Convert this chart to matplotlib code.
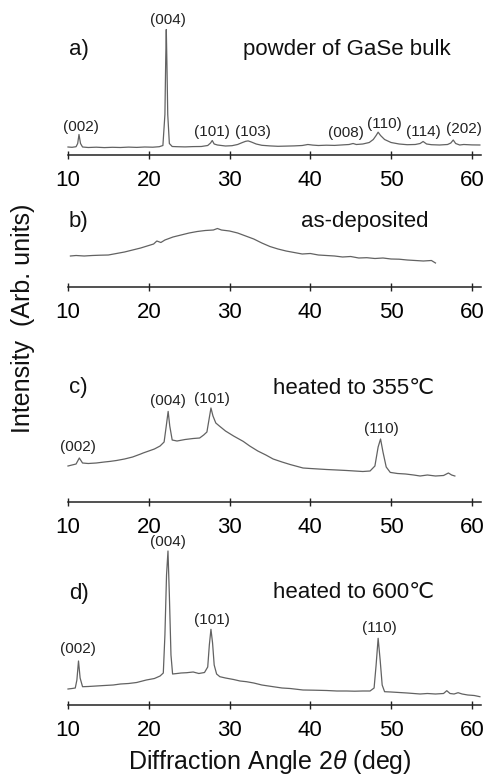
import matplotlib
matplotlib.use("Agg")
import matplotlib.pyplot as plt

plt.rcParams['font.family'] = ['Liberation Sans', 'DejaVu Sans']
plt.rcParams['mathtext.fontset'] = 'custom'
plt.rcParams['mathtext.it'] = 'Liberation Sans:italic'
plt.rcParams['mathtext.rm'] = 'Liberation Sans'

# ---------------- data (2theta in deg, intensity in arb. units) ----------------
a_x = [10.0, 10.5, 11.0, 11.2, 11.36, 11.55, 11.8, 12.5, 13.5, 14.5,
       15.5, 16.5, 17.5, 18.5, 19.5, 20.5, 21.3, 21.75, 22.0, 22.1,
       22.17, 22.25, 22.35, 22.55, 22.9, 23.5, 24.5, 25.5, 26.5, 27.3,
       27.65, 27.86, 28.1, 28.5, 29.0, 29.5, 30.3, 31.0, 31.6, 32.0,
       32.3, 32.7, 33.3, 34.0, 35.0, 36.0, 37.0, 38.0, 39.0, 39.7,
       40.3, 41.0, 42.0, 43.0, 44.0, 44.8, 45.3, 45.7, 46.5, 47.3,
       47.8, 48.15, 48.4, 48.7, 49.2, 50.0, 51.0, 52.0, 53.0, 53.6,
       53.97, 54.4, 55.0, 56.0, 57.0, 57.4, 57.7, 58.0, 58.5, 59.0,
       60.0, 61.0]
a_y = [7.5, 7.2, 7.8, 11, 20, 11, 7.5, 7.0, 7.3, 6.9,
       7.2, 7.0, 7.4, 7.1, 7.5, 7.3, 7.8, 9, 40, 95,
       125, 90, 40, 11, 8, 7.8, 7.6, 7.9, 8, 9,
       11.5, 14, 10.5, 9.5, 9, 8.5, 8.8, 10, 12, 13.2,
       13.6, 12.5, 10.5, 9.2, 8.6, 8.2, 8.4, 8.6, 9.0, 10,
       9.4, 9.0, 9.3, 9.1, 9.6, 10, 11, 10, 10.5, 12,
       15, 19, 22.3, 19, 15, 12, 10.5, 9.8, 10, 11,
       13, 10.5, 9.8, 9.5, 10, 11.5, 14.5, 11, 9.5, 10,
       9.6, 9.5]

b_x = [10.3, 11, 12, 13, 14, 15, 16, 17, 18, 19,
       20, 20.6, 21, 21.5, 22, 23, 24, 25, 26, 27,
       28, 28.5, 29, 30, 31, 32, 33, 34, 35, 36,
       37, 38, 39, 40, 41, 42, 43, 44, 45, 46,
       47, 48, 49, 50, 51, 52, 53, 54, 55, 55.5]
b_y = [31, 31.5, 31, 31.5, 31.8, 32, 33.5, 35, 37, 39,
       41.5, 43, 46, 44.5, 47, 50, 52, 54, 55.5, 56.5,
       57, 58.5, 57, 56, 54, 51, 48, 44, 40.5, 38,
       36, 34.5, 33, 33.5, 32, 31.5, 31, 30, 30.5, 29,
       29.3, 28.5, 29, 28, 27.8, 27, 26.5, 26, 26.5, 24]

c_x = [10.0, 10.5, 11.0, 11.2, 11.4, 11.8, 12.5, 13.5, 14.5, 15.2,
       16, 17, 18, 19, 19.3, 20, 20.7, 21.4, 21.9, 22.15,
       22.4, 22.6, 22.9, 23.5, 24.5, 25.5, 26.3, 26.8, 27.2, 27.45,
       27.7, 27.95, 28.3, 28.8, 29.5, 30.5, 31.7, 32.5, 33.5, 34.5,
       35.4, 36.5, 37.5, 39.1, 40, 41, 42, 43.3, 44.5, 45.5,
       46.5, 47.4, 48.0, 48.4, 48.7, 49.0, 49.4, 49.9, 50.8, 51.8,
       52.8, 53.6, 54.5, 55.5, 56.5, 57.1, 57.5, 57.9]
c_y = [36, 37, 38, 41, 44, 39, 38.5, 39, 40, 40.6,
       41.5, 43, 45, 48, 49, 51, 53, 56, 60, 75,
       90.6, 76, 62, 61, 62.5, 63.5, 64, 67, 70, 82,
       94, 86, 79, 75.6, 71, 66, 60.6, 56, 51, 47,
       43, 40, 37.5, 34, 33.5, 33, 32.5, 32, 31.5, 31,
       30.5, 31, 36, 55, 63, 50, 35, 29.6, 28.5, 28,
       27, 26, 27, 26, 26.5, 29, 27, 26]

d_x = [10.0, 10.5, 10.9, 11.1, 11.3, 11.5, 11.8, 12.5, 13.5, 14.5,
       15.6, 16.5, 17.5, 18.5, 19.7, 20.7, 21.4, 21.8, 22.0, 22.2,
       22.38, 22.55, 22.75, 22.95, 23.5, 24.0, 24.7, 25.5, 26.2, 26.9,
       27.3, 27.5, 27.7, 27.9, 28.1, 28.4, 28.8, 29.5, 30.5, 31.3,
       32.1, 33, 34, 35.4, 36.5, 37.5, 39.1, 40.5, 42, 43.3,
       44.5, 45.5, 46.5, 47.4, 47.9, 48.15, 48.4, 48.65, 48.9, 49.2,
       50, 51, 52, 53.6, 54.5, 55.5, 56.5, 56.9, 57.3, 57.8,
       58.3, 58.8, 59.5, 60.3, 61.0]
d_y = [16, 16.5, 17, 25, 44, 27, 18.3, 18.5, 19, 19.5,
       20, 21, 21.5, 22.5, 25, 26.5, 29, 32, 70, 130,
       154, 110, 50, 31, 31.5, 32, 32.3, 33, 31.5, 32.5,
       38, 60, 75.7, 62, 40, 31, 28.3, 27, 25.5, 24,
       23.3, 22, 20, 18.3, 17, 16.5, 15, 14.8, 14.5, 14,
       14, 13.8, 14, 14, 17, 40, 66.7, 45, 20, 13.3,
       13, 12.5, 12, 11, 11.5, 11, 11.5, 14.3, 11.5, 11,
       12.3, 11, 10, 9.5, 8.3]

xticks = [10, 20, 30, 40, 50, 60]

a_peaks = ["(002)", "(004)", "(101)", "(103)", "(008)", "(110)", "(114)", "(202)"]
c_peaks = ["(002)", "(004)", "(101)", "(110)"]
d_peaks = ["(002)", "(004)", "(101)", "(110)"]

panel_letters = ["a)", "b)", "c)", "d)"]
panel_titles = ["powder of GaSe bulk", "as-deposited",
                "heated to 355\u2103", "heated to 600\u2103"]

# ---------------- layout ----------------
W, H = 488, 781
fig = plt.figure(figsize=(W / 100, H / 100), dpi=100)
fig.patch.set_facecolor('white')

x_left_px, x_right_px = 68, 480.7
XMIN, XMAX = 10, 61.1
line_color = '#626262'

def add_panel(axis_px, top_px):
    ax = fig.add_axes([x_left_px / W, 1 - axis_px / H,
                       (x_right_px - x_left_px) / W, (axis_px - top_px) / H])
    ax.set_xlim(XMIN, XMAX)
    ax.set_ylim(0, axis_px - top_px)
    for s in ['left', 'right', 'top']:
        ax.spines[s].set_visible(False)
    ax.spines['bottom'].set_linewidth(1.1)
    ax.spines['bottom'].set_color('#222222')
    ax.set_yticks([])
    ax.set_xticks(xticks)
    ax.tick_params(axis='x', direction='inout', length=6, width=1.0,
                   color='#222222', labelsize=16, pad=8)
    ax.patch.set_alpha(0)
    return ax

panels = [(154.5, 10), (287, 200), (502, 330), (705, 540)]
datasets = [(a_x, a_y), (b_x, b_y), (c_x, c_y), (d_x, d_y)]
axes = []
for (axis_px, top_px), (xs, ys) in zip(panels, datasets):
    ax = add_panel(axis_px, top_px)
    ax.plot(xs, ys, color=line_color, lw=0.9, clip_on=False)
    axes.append(ax)

# peak labels (x in deg, y in intensity units)
a_lab_pos = [(11.57, 27.8), (22.35, 134.5), (27.87, 22.8), (32.95, 22.8),
             (44.39, 21.2), (49.13, 30.5), (53.99, 22.2), (59.03, 25.5)]
c_lab_pos = [(11.28, 55.3), (22.35, 101), (27.8, 103), (48.84, 72.7)]
d_lab_pos = [(11.28, 55.7), (22.42, 163), (27.87, 85), (48.55, 76.7)]
for ax, labs, pos in [(axes[0], a_peaks, a_lab_pos),
                      (axes[2], c_peaks, c_lab_pos),
                      (axes[3], d_peaks, d_lab_pos)]:
    for lab, (px, py) in zip(labs, pos):
        ax.text(px, py, lab, ha='center', va='center', fontsize=11,
                color='#222222', clip_on=False)

# panel letters and titles (figure pixel positions)
letter_pos = [(69, 49), (69, 222), (69, 388), (69, 594)]
title_pos = [(243, 50), (301, 221), (273, 388), (273, 593)]
for lab, (px, py) in zip(panel_letters, letter_pos):
    fig.text(px / W, 1 - py / H, lab, ha='left', va='center', fontsize=16,
             color='#111111')
for lab, (px, py) in zip(panel_titles, title_pos):
    fig.text(px / W, 1 - py / H, lab, ha='left', va='center', fontsize=16,
             color='#111111')

fig.text(270 / W, 1 - 762 / H, r"Diffraction Angle 2$\it{\theta}$ (deg)",
         ha='center', va='center', fontsize=18, color='#111111')
fig.text(23 / W, 1 - 318 / H, "Intensity  (Arb. units)", rotation=90,
         ha='center', va='center', fontsize=18, color='#111111')

fig.savefig("out.png", dpi=100, facecolor='white')
